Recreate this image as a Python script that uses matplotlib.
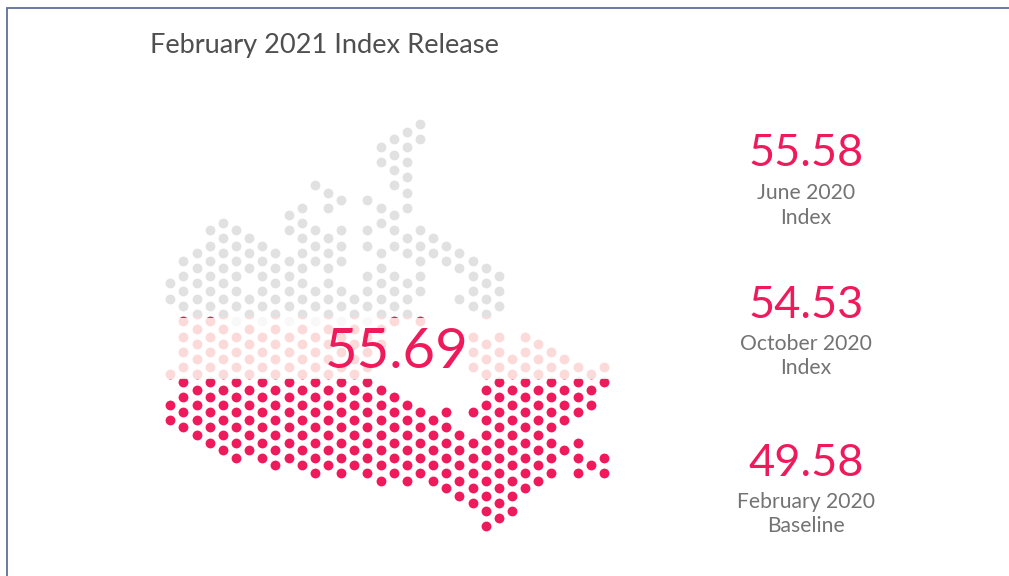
import matplotlib.pyplot as plt
from matplotlib.patches import Rectangle

plt.rcParams['font.family'] = ['Lato', 'DejaVu Sans']

# map dots: grid rows occupied in each grid column, staggered west to east
map_rows = [
    [21, 23, 33, 37, 39],
    [18, 20, 22, 24, 26, 28, 30, 32, 34, 36, 38, 40],
    [17, 19, 21, 23, 25, 27, 29, 31, 33, 35, 37, 39, 41],
    [14, 16, 18, 20, 22, 24, 26, 28, 30, 32, 34, 36, 38, 40, 42],
    [13, 15, 17, 19, 21, 23, 25, 27, 29, 31, 33, 35, 37, 39, 41, 43],
    [14, 16, 18, 20, 22, 24, 28, 30, 32, 34, 36, 38, 40, 42, 44],
    [15, 17, 19, 23, 25, 27, 29, 31, 33, 35, 37, 39, 41, 43],
    [16, 18, 20, 22, 24, 28, 30, 32, 34, 36, 38, 40, 42, 44],
    [17, 19, 21, 23, 25, 27, 29, 31, 33, 35, 37, 39, 41, 43, 45],
    [12, 14, 18, 20, 22, 24, 28, 30, 32, 34, 36, 38, 40, 42, 44],
    [11, 13, 15, 17, 19, 21, 23, 25, 27, 29, 31, 33, 35, 37, 39, 41, 43, 45],
    [8, 14, 16, 18, 22, 24, 28, 30, 32, 34, 36, 38, 40, 42, 44, 46],
    [9, 11, 15, 17, 19, 21, 23, 25, 27, 29, 31, 33, 35, 37, 39, 41, 43, 45],
    [10, 14, 16, 18, 22, 24, 28, 30, 32, 34, 36, 38, 40, 42, 44, 46],
    [23, 25, 27, 29, 31, 33, 35, 37, 39, 41, 43, 45],
    [10, 14, 16, 20, 22, 24, 28, 30, 32, 34, 36, 38, 40, 42, 44, 46],
    [3, 5, 11, 13, 17, 19, 21, 23, 25, 27, 29, 35, 37, 39, 41, 43, 45, 47],
    [2, 4, 6, 8, 12, 14, 16, 20, 22, 24, 26, 36, 38, 40, 42, 44, 46],
    [1, 3, 5, 7, 9, 11, 15, 17, 21, 23, 25, 37, 39, 41, 43, 45, 47],
    [0, 2, 14, 16, 18, 20, 22, 26, 38, 40, 42, 44, 46],
    [15, 17, 39, 41, 43, 45, 47],
    [16, 18, 38, 40, 42, 44, 46, 48],
    [17, 19, 23, 41, 43, 45, 47, 49],
    [18, 20, 22, 24, 28, 30, 32, 38, 42, 44, 46, 48, 50],
    [19, 21, 23, 25, 29, 31, 33, 35, 37, 39, 41, 43, 45, 47, 49, 51, 53],
    [20, 22, 24, 28, 30, 32, 34, 36, 38, 40, 42, 44, 46, 48, 50, 52],
    [31, 33, 35, 37, 39, 41, 43, 45, 47, 49, 51],
    [28, 30, 32, 34, 36, 38, 40, 42, 44, 46, 48],
    [29, 31, 33, 35, 37, 39, 41, 43, 45, 47],
    [30, 32, 34, 36, 38, 40, 42, 44, 46],
    [31, 33, 35, 37, 39, 43],
    [32, 34, 36, 38, 42, 44, 46],
    [33, 35, 37, 45],
    [32, 34, 44, 46],
]

# washed-out grey dots along the top of the pale band
faint_columns = [5, 7, 9, 11, 13, 15]
faint_row = 26

# dots on that row whose tops stay crimson above the band
sliver_columns = [1, 3, 17, 19]

# band limits of the fill, in grid rows
band_top = 25.48
band_bottom = 33.67

headline = '55.69'
index_values = ['55.58', '54.53', '49.58']
index_labels = ['June 2020\nIndex', 'October 2020\nIndex', 'February 2020\nBaseline']

grey = '#e1e1e1'
pale = '#fbdad9'
crimson = '#ee1a5b'
dot_size = 50

fig = plt.figure(figsize=(10.09, 5.76), dpi=100)
ax = fig.add_axes([0, 0, 1, 1])
ax.set_xlim(-12.96, 63.83)
ax.set_ylim(59.6, -16.4)
ax.axis('off')

cols = [c for c, col_rows in enumerate(map_rows) for r in col_rows]
rows = [r for col_rows in map_rows for r in col_rows]


def clipped_dots(x, y, color, top, bottom):
    dots = ax.scatter(x, y, s=dot_size, color=color, linewidths=0, zorder=2)
    dots.set_clip_path(Rectangle((-12.96, top), 76.79, bottom - top, transform=ax.transData))


# same dots three times, each colour clipped to its own band
clipped_dots(cols, rows, grey, -16.4, band_top)
clipped_dots(cols, rows, pale, band_top, band_bottom)
clipped_dots(cols, rows, crimson, band_bottom, 59.6)
clipped_dots(sliver_columns, [faint_row] * len(sliver_columns), crimson, -16.4, band_top)
clipped_dots(faint_columns, [faint_row] * len(faint_columns), '#f8f8f8', band_top, band_bottom)

# frame lines on the top and left only
ax.plot([7.2 / 1009, 7.2 / 1009, 1], [0, 1 - 8 / 576, 1 - 8 / 576], transform=fig.transFigure,
        color='#5f7198', lw=1.3, solid_joinstyle='miter', clip_on=False)

fig.text(150 / 1009, 1 - 45.5 / 576, 'February 2021 Index Release', color='#4f4f4f',
         fontsize=19.6, ha='left', va='center')
fig.text(397 / 1009, 1 - 353 / 576, headline, color=crimson, fontsize=40.5,
         ha='center', va='center', zorder=5)

value_y = [153.5, 305, 463]
label_y = [205.5, 356, 514]
for value, label, vy, ly in zip(index_values, index_labels, value_y, label_y):
    fig.text(806 / 1009, 1 - vy / 576, value, color=crimson, fontsize=32.5,
             ha='center', va='center')
    fig.text(806 / 1009, 1 - ly / 576, label, color='#737373', fontsize=15.2,
             ha='center', va='center', linespacing=1.27)

fig.savefig('out.png', dpi=100)
